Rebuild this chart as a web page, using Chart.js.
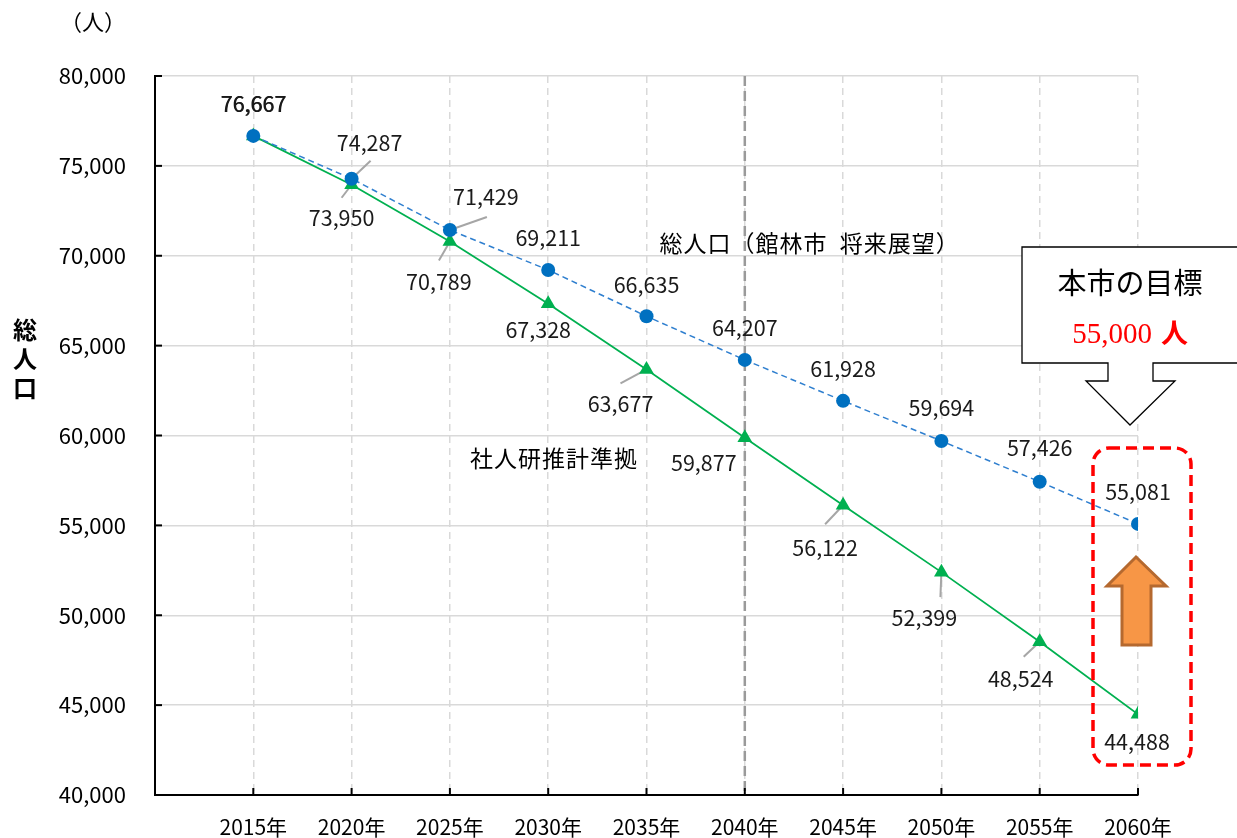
<!DOCTYPE html>
<html lang="ja">
<head>
<meta charset="utf-8">
<script src="https://cdn.jsdelivr.net/npm/chart.js@4/dist/chart.umd.min.js"></script>
<style>
  html, body { margin: 0; padding: 0; background: #fff; }
  #wrap { width: 1237px; height: 838px; }
</style>
</head>
<body>
<div id="wrap"><canvas id="chart"></canvas></div>
<script>
// データ
const years = [2015, 2020, 2025, 2030, 2035, 2040, 2045, 2050, 2055, 2060];
const planPop = [76667, 74287, 71429, 69211, 66635, 64207, 61928, 59694, 57426, 55081]; // 総人口（館林市 将来展望）
const ipssPop = [76667, 73950, 70789, 67328, 63677, 59877, 56122, 52399, 48524, 44488]; // 社人研推計準拠
const yMin = 40000, yMax = 80000, yStep = 5000;
const xMin = 2010, xMax = 2060;
const targetNum = '55,000';
const targetUnit = '人';

// ラベル位置（点からのずれ）
const planLabelOff = [[0, -32], [18, -36], [36, -33], [0, -32], [0, -31], [0, -32], [0, -32], [0, -33], [0, -34], [0, -32]];
const ipssLabelOff = [null, [-10, 33], [-11, 40], [-10, 26], [-26, 34], [-41, 25], [-18, 43], [-17, 46], [-19, 37], [-1, 27]];
const planLeader = [null, [19, -18], [37, -13], null, null, null, null, null, null, null];
const ipssLeader = [null, [-10, 13], [-11, 19], null, [-26, 14], null, [-18, 19], [-1, 25], [-16, 15], null];

const FONT = '"Noto Sans CJK JP", "Noto Sans", sans-serif';
const fmt = v => v.toLocaleString('en-US');

const extras = {
    id: 'extras',
    beforeDatasetsDraw(chart) {
        const { ctx, chartArea: a, scales: { x, y } } = chart;
        ctx.save();
        // 2040年の縦線
        const x40 = x.getPixelForValue(2040);
        ctx.strokeStyle = '#9a9a9a';
        ctx.lineWidth = 2.5;
        ctx.setLineDash([10, 5]);
        ctx.beginPath(); ctx.moveTo(x40, a.top); ctx.lineTo(x40, a.bottom); ctx.stroke();
        ctx.setLineDash([]);
        // 引き出し線
        ctx.strokeStyle = '#a6a6a6';
        ctx.lineWidth = 2;
        const leaders = (vals, offs) => vals.forEach((v, i) => {
            if (!offs[i]) return;
            const px = x.getPixelForValue(years[i]), py = y.getPixelForValue(v);
            ctx.beginPath(); ctx.moveTo(px, py); ctx.lineTo(px + offs[i][0], py + offs[i][1]); ctx.stroke();
        });
        leaders(planPop, planLeader);
        leaders(ipssPop, ipssLeader);
        ctx.restore();
    },
    afterDatasetsDraw(chart) {
        const { ctx, scales: { x, y } } = chart;
        ctx.save();
        ctx.fillStyle = '#1a1a1a';
        ctx.font = '21.5px ' + FONT;
        ctx.textAlign = 'center';
        ctx.textBaseline = 'middle';
        const labels = (vals, offs) => vals.forEach((v, i) => {
            if (!offs[i]) return;
            const px = x.getPixelForValue(years[i]), py = y.getPixelForValue(v);
            ctx.fillText(fmt(v), px + offs[i][0], py + offs[i][1]);
            // 2015年は2系列のラベルが重なり濃く見える
            if (i === 0) ctx.fillText(fmt(v), px + offs[i][0] + 0.6, py + offs[i][1]);
        });
        labels(planPop, planLabelOff);
        labels(ipssPop, ipssLabelOff);

        // 系列名
        ctx.fillStyle = '#000';
        ctx.font = '23px ' + FONT;
        ctx.letterSpacing = '1px';
        ctx.fillText('総人口（館林市  将来展望）', x.getPixelForValue(2043.3), y.getPixelForValue(70700));
        ctx.fillText('社人研推計準拠', x.getPixelForValue(2030.3), y.getPixelForValue(58750));
        ctx.letterSpacing = '0px';
        ctx.restore();
    },
    afterDraw(chart) {
        const { ctx, chartArea: a, scales: { x, y } } = chart;
        ctx.save();
        // 内向きの目盛り
        ctx.strokeStyle = '#000';
        ctx.lineWidth = 2;
        for (let v = yMin; v <= yMax; v += yStep) {
            const py = y.getPixelForValue(v);
            ctx.beginPath(); ctx.moveTo(a.left, py); ctx.lineTo(a.left + 7, py); ctx.stroke();
        }
        years.forEach(yr => {
            const px = x.getPixelForValue(yr);
            ctx.beginPath(); ctx.moveTo(px, a.bottom); ctx.lineTo(px, a.bottom - 7); ctx.stroke();
        });

        // 単位・軸タイトル
        ctx.fillStyle = '#000';
        ctx.textAlign = 'center';
        ctx.textBaseline = 'middle';
        ctx.font = '22px ' + FONT;
        ctx.fillText('（人）', 93, 22);
        ctx.font = 'bold 24px ' + FONT;
        ['総', '人', '口'].forEach((c, i) => ctx.fillText(c, 25, 330 + i * 29));

        // 目標の吹き出し
        const cx = x.getPixelForValue(2060) - 8;
        const top = 247, bot = 363, neck = 381, tip = 425;
        ctx.beginPath();
        ctx.moveTo(cx - 108, top);
        ctx.lineTo(cx + 120, top);
        ctx.lineTo(cx + 120, bot);
        ctx.lineTo(cx + 23, bot);
        ctx.lineTo(cx + 23, neck);
        ctx.lineTo(cx + 45, neck);
        ctx.lineTo(cx, tip);
        ctx.lineTo(cx - 44, neck);
        ctx.lineTo(cx - 22, neck);
        ctx.lineTo(cx - 22, bot);
        ctx.lineTo(cx - 108, bot);
        ctx.closePath();
        ctx.fillStyle = '#fff';
        ctx.fill();
        ctx.strokeStyle = '#000';
        ctx.lineWidth = 1.3;
        ctx.stroke();
        ctx.fillStyle = '#000';
        ctx.font = '29px ' + FONT;
        ctx.fillText('本市の目標', cx, 283);

        ctx.fillStyle = '#ff0000';
        const numFont = '29px "Liberation Serif", serif';
        const unitFont = 'bold 27px ' + FONT;
        ctx.font = numFont;
        const wNum = ctx.measureText(targetNum).width;
        ctx.font = unitFont;
        const wUnit = ctx.measureText(targetUnit).width;
        const gap = 9;
        const x0 = cx - (wNum + gap + wUnit) / 2;
        ctx.textAlign = 'left';
        ctx.font = numFont;
        ctx.fillText(targetNum, x0, 335);
        ctx.font = unitFont;
        ctx.fillText(targetUnit, x0 + wNum + gap, 333);
        ctx.textAlign = 'center';

        // 赤い点線枠
        const gx = x.getPixelForValue(2060);
        ctx.strokeStyle = '#ff0000';
        ctx.lineWidth = 3.5;
        ctx.setLineDash([11, 6]);
        ctx.beginPath();
        ctx.roundRect(gx - 45, 448, 98, 317, 16);
        ctx.stroke();
        ctx.setLineDash([]);

        // オレンジの矢印
        const ax = gx - 2;
        ctx.beginPath();
        ctx.moveTo(ax, 557);
        ctx.lineTo(ax + 30, 586);
        ctx.lineTo(ax + 15, 586);
        ctx.lineTo(ax + 15, 645);
        ctx.lineTo(ax - 14, 645);
        ctx.lineTo(ax - 14, 586);
        ctx.lineTo(ax - 29, 586);
        ctx.closePath();
        ctx.fillStyle = '#f79646';
        ctx.fill();
        ctx.strokeStyle = '#b5692f';
        ctx.lineWidth = 3;
        ctx.stroke();
        ctx.restore();
    }
};

new Chart(document.getElementById('chart'), {
    type: 'line',
    data: {
        datasets: [
            {
                label: '総人口（館林市 将来展望）',
                data: years.map((yr, i) => ({ x: yr, y: planPop[i] })),
                borderColor: '#2f7fcf',
                borderWidth: 1.5,
                borderDash: [6, 4],
                pointStyle: 'circle',
                pointRadius: 7,
                pointBackgroundColor: '#0070c0',
                pointBorderColor: '#0070c0',
                pointBorderWidth: 0,
                tension: 0
            },
            {
                label: '社人研推計準拠',
                data: years.map((yr, i) => ({ x: yr, y: ipssPop[i] })),
                borderColor: '#00b050',
                borderWidth: 1.8,
                pointStyle: 'triangle',
                pointRadius: 8.5,
                pointBackgroundColor: '#00b050',
                pointBorderColor: '#00b050',
                pointBorderWidth: 0,
                tension: 0
            }
        ]
    },
    options: {
        responsive: true,
        maintainAspectRatio: false,
        animation: false,
        events: [],
        layout: { padding: { left: 0, top: 76, right: 99, bottom: 0 } },
        plugins: {
            legend: { display: false },
            tooltip: { enabled: false }
        },
        scales: {
            x: {
                type: 'linear',
                min: xMin,
                max: xMax,
                afterFit: s => { s.height = 43; },
                afterBuildTicks: s => { s.ticks = [xMin, ...years].map(v => ({ value: v })); },
                border: { display: true, color: '#000', width: 2, dash: [7, 5] },
                grid: {
                    drawTicks: false,
                    color: c => c.tick && c.tick.value === xMin ? 'rgba(0,0,0,0)' : '#d9d9d9',
                    lineWidth: 1.5
                },
                ticks: {
                    padding: 19,
                    color: '#000',
                    font: { family: FONT, size: 21 },
                    maxRotation: 0,
                    autoSkip: false,
                    callback: v => v === xMin ? '' : v + '年'
                }
            },
            y: {
                min: yMin,
                max: yMax,
                afterFit: s => { s.width = 155; },
                border: { display: true, color: '#000', width: 2 },
                grid: { drawTicks: false, color: '#d9d9d9', lineWidth: 1.5 },
                ticks: {
                    stepSize: yStep,
                    padding: 29,
                    color: '#000',
                    font: { family: FONT, size: 22 },
                    callback: v => fmt(v)
                }
            }
        }
    },
    plugins: [extras]
});
</script>
</body>
</html>
